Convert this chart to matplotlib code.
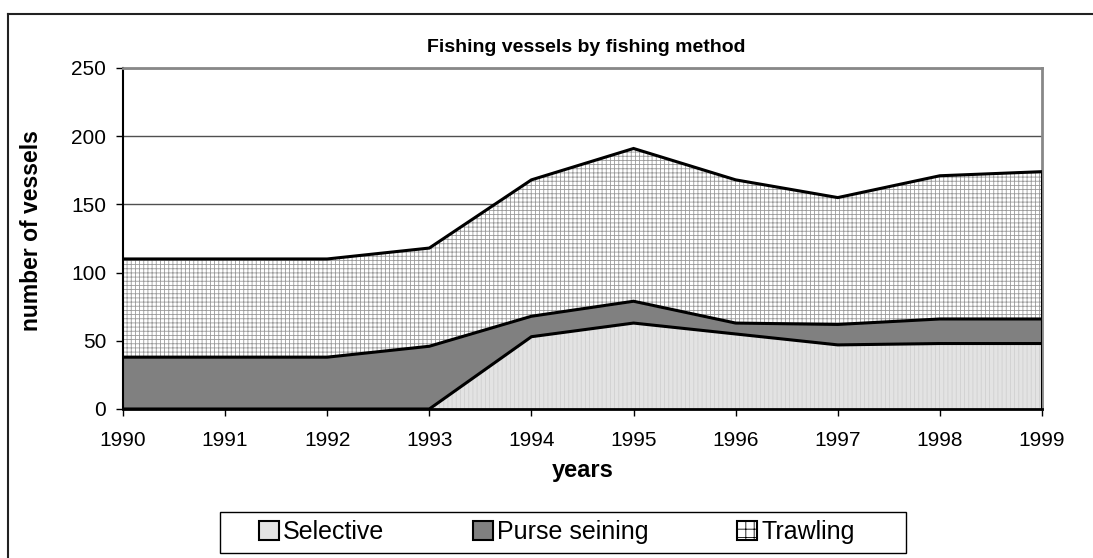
import numpy as np
import matplotlib.pyplot as plt
from matplotlib.patches import Patch, Rectangle
from matplotlib.lines import Line2D

plt.rcParams['font.family'] = ['Liberation Sans', 'DejaVu Sans']
plt.rcParams['hatch.linewidth'] = 0.6

# data (vessels per fishing method)
years = [1990, 1991, 1992, 1993, 1994, 1995, 1996, 1997, 1998, 1999]
selective = [0, 0, 0, 0, 53, 63, 55, 47, 48, 48]
purse_seining = [38, 38, 38, 46, 15, 16, 8, 15, 18, 18]
trawling = [72, 72, 72, 72, 100, 112, 105, 93, 105, 108]
series_names = ["Selective", "Purse seining", "Trawling"]
y_ticks = [0, 50, 100, 150, 200, 250]

W, H = 1093, 558
fig = plt.figure(figsize=(W / 100, H / 100), dpi=100)
ax = fig.add_axes([123 / W, 1 - 409 / H, (1042 - 123) / W, (409 - 68) / H])

x = np.array(years)
s1 = np.array(selective)
s2 = s1 + np.array(purse_seining)
s3 = s2 + np.array(trawling)

# areas
ax.fill_between(x, 0, s1, facecolor="#e3e3e3", edgecolor="#d0d0d0",
                hatch="||||", linewidth=0, zorder=2)
ax.fill_between(x, s1, s2, facecolor="#808080", linewidth=0, zorder=2)
ax.fill_between(x, s2, s3, facecolor="white", edgecolor="#9a9a9a",
                hatch="++++", linewidth=0, zorder=2)

# outlines
for top in (s1, s2, s3):
    ax.plot(x, top, color="black", lw=2.2, zorder=3, solid_joinstyle="miter")
ax.plot([x[-1], x[-1]], [0, s3[-1]], color="black", lw=2.2, zorder=3)

ax.set_xlim(years[0], years[-1])
ax.set_ylim(0, 250)
ax.set_xticks(years)
ax.set_yticks(y_ticks)
ax.tick_params(axis="both", labelsize=15, length=5, width=1, color="black")
ax.tick_params(axis="y", pad=7)
ax.tick_params(axis="x", pad=11)

ax.set_axisbelow(True)
ax.yaxis.grid(True, color="#505050", lw=1)

ax.spines["top"].set_color("#888888")
ax.spines["top"].set_linewidth(2)
ax.spines["right"].set_color("#888888")
ax.spines["right"].set_linewidth(2)
ax.spines["left"].set_color("black")
ax.spines["left"].set_linewidth(1.5)
ax.spines["bottom"].set_color("black")
ax.spines["bottom"].set_linewidth(2)

ax.set_xlabel("years", fontsize=17, fontweight="bold", labelpad=6)
fig.text(32 / W, 1 - 231 / H, "number of vessels", rotation=90, ha="center",
         va="center", fontsize=16.5, fontweight="bold")
fig.text(586 / W, 1 - 52 / H, "Fishing vessels by fishing method", ha="center",
         va="baseline", fontsize=14, fontweight="bold")

# legend
handles = [
    Patch(facecolor="#e3e3e3", edgecolor="black", lw=1.5),
    Patch(facecolor="#808080", edgecolor="black", lw=1.5),
    Patch(facecolor="white", edgecolor="black", hatch="++", lw=1.5),
]
fig.legend(handles, series_names, loc="center", ncol=3,
           bbox_to_anchor=(557 / W, 1 - 532 / H), frameon=False, fontsize=18,
           handlelength=0.78, handleheight=0.78, handletextpad=0.18,
           columnspacing=3.55)
fig.patches.append(Rectangle((220 / W, 1 - 553 / H), 686 / W, 41 / H,
                             transform=fig.transFigure, facecolor="none",
                             edgecolor="black", lw=1))

# outer chart frame
fig.add_artist(Line2D([8 / W, 8 / W], [0, 1 - 14 / H], color="#222222", lw=1.5,
                      transform=fig.transFigure))
fig.add_artist(Line2D([8 / W, 1], [1 - 14 / H, 1 - 14 / H], color="#222222",
                      lw=1.5, transform=fig.transFigure))

fig.savefig("out.png", dpi=100)
